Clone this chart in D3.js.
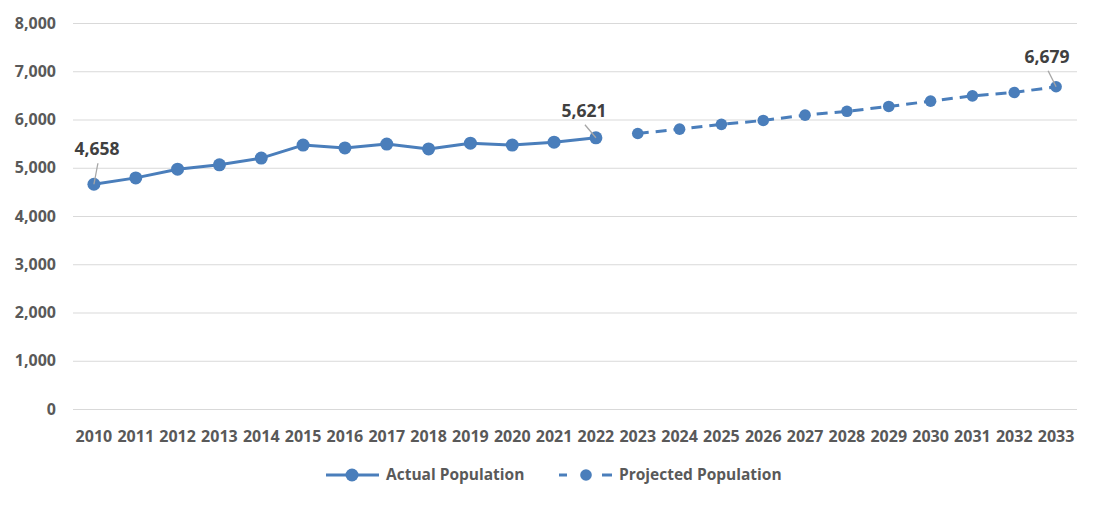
<!DOCTYPE html>
<html><head><meta charset="utf-8">
<script src="https://cdn.jsdelivr.net/npm/d3@7"></script>
<style>body{margin:0;background:#fff;} svg{display:block;} text{font-family:"Open Sans","Liberation Sans",sans-serif;font-weight:bold;fill:#595959;}</style>
</head><body>
<svg id="c" width="1100" height="505"></svg>
<script>
const years = ["2010","2011","2012","2013","2014","2015","2016","2017","2018","2019","2020","2021","2022","2023","2024","2025","2026","2027","2028","2029","2030","2031","2032","2033"];
const actualYears = ["2010","2011","2012","2013","2014","2015","2016","2017","2018","2019","2020","2021","2022"];
const actualValues = [4658,4790,4970,5060,5200,5470,5410,5490,5390,5510,5470,5530,5621];
const projectedYears = ["2023","2024","2025","2026","2027","2028","2029","2030","2031","2032","2033"];
const projectedValues = [5710,5800,5900,5980,6090,6170,6270,6380,6490,6560,6679];
const yTicks = [0,1000,2000,3000,4000,5000,6000,7000,8000];
const labelled = [{year:"2010",value:4658,dx:3,dy:-29},{year:"2022",value:5621,dx:-12,dy:-21},{year:"2033",value:6679,dx:-9,dy:-24}];

const color = "#4a7ebb";
const svg = d3.select("#c");
const x = d3.scaleBand().domain(years).range([73,1077]);
const y = d3.scaleLinear().domain([0,8000]).range([409,23]);
const cx = d => x(d) + x.bandwidth()/2;

// grid
svg.append("g").selectAll("line").data(yTicks).join("line")
  .attr("x1",73).attr("x2",1077).attr("y1",d=>y(d)+0.5).attr("y2",d=>y(d)+0.5)
  .attr("stroke","#d9d9d9").attr("stroke-width",1);

// y axis labels
const fmt = d3.format(",");
svg.append("g").selectAll("text").data(yTicks).join("text")
  .attr("x",56).attr("y",d=>y(d)).attr("dy","0.35em").attr("text-anchor","end")
  .attr("font-size",16).text(d=>fmt(d));

// x axis labels
svg.append("g").selectAll("text").data(years).join("text")
  .attr("x",d=>cx(d)).attr("y",442).attr("text-anchor","middle")
  .attr("font-size",16).text(d=>d);

const actual = actualYears.map((d,i)=>({year:d,value:actualValues[i]}));
const projected = projectedYears.map((d,i)=>({year:d,value:projectedValues[i]}));
const line = d3.line().x(d=>cx(d.year)).y(d=>y(d.value));

svg.append("path").datum(actual).attr("d",line).attr("fill","none")
  .attr("stroke",color).attr("stroke-width",3).attr("stroke-linejoin","round");
svg.append("g").selectAll("circle").data(actual).join("circle")
  .attr("cx",d=>cx(d.year)).attr("cy",d=>y(d.value)).attr("r",6.5).attr("fill",color);

svg.append("path").datum(projected).attr("d",line).attr("fill","none")
  .attr("stroke",color).attr("stroke-width",3).attr("stroke-dasharray","11,7");
svg.append("g").selectAll("circle").data(projected).join("circle")
  .attr("cx",d=>cx(d.year)).attr("cy",d=>y(d.value)).attr("r",5.8).attr("fill",color);

// data labels with leader lines
const lg = svg.append("g");
labelled.forEach(l=>{
  const px = cx(l.year), py = y(l.value);
  const tx = px + l.dx, ty = py + l.dy;
  lg.append("line").attr("x1",tx+1).attr("y1",ty+8).attr("x2",px).attr("y2",py)
    .attr("stroke","#a6a6a6").attr("stroke-width",1.3);
  lg.append("text").attr("x",tx).attr("y",ty).attr("text-anchor","middle")
    .attr("font-size",17.5).style("fill","#404040").text(fmt(l.value));
});

// legend
const leg = svg.append("g");
leg.append("line").attr("x1",326).attr("x2",379).attr("y1",475).attr("y2",475).attr("stroke",color).attr("stroke-width",3);
leg.append("circle").attr("cx",352).attr("cy",475).attr("r",6.5).attr("fill",color);
leg.append("text").attr("x",386).attr("y",475).attr("dy","0.35em").attr("font-size",15.5).text("Actual Population");
leg.append("line").attr("x1",559).attr("x2",567).attr("y1",475).attr("y2",475).attr("stroke",color).attr("stroke-width",3);
leg.append("line").attr("x1",602).attr("x2",612).attr("y1",475).attr("y2",475).attr("stroke",color).attr("stroke-width",3);
leg.append("circle").attr("cx",586).attr("cy",475).attr("r",5.8).attr("fill",color);
leg.append("text").attr("x",619).attr("y",475).attr("dy","0.35em").attr("font-size",15.5).text("Projected Population");
</script>
</body></html>
